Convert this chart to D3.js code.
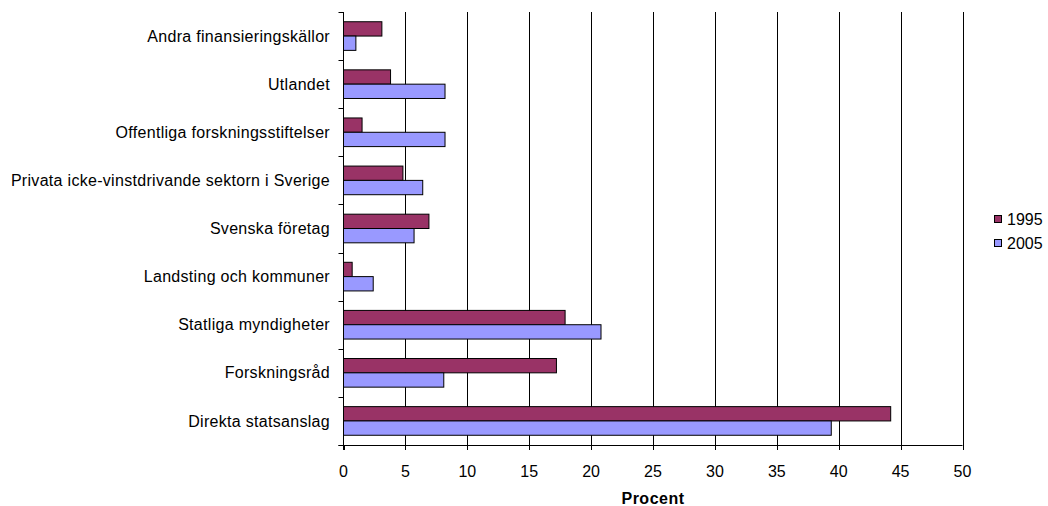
<!DOCTYPE html>
<html><head><meta charset="utf-8">
<script src="https://cdn.jsdelivr.net/npm/d3@7/dist/d3.min.js"></script>
<style>body{margin:0;background:#fff;}svg{display:block;font-family:"Liberation Sans",Arial,sans-serif;}</style>
</head><body>
<svg id="c" width="1048" height="506"></svg>
<script>
const categories = ["Andra finansieringskällor","Utlandet","Offentliga forskningsstiftelser","Privata icke-vinstdrivande sektorn i Sverige","Svenska företag","Landsting och kommuner","Statliga myndigheter","Forskningsråd","Direkta statsanslag"];
const series = ["1995","2005"];
const values1995 = [3.1, 3.8, 1.5, 4.8, 6.9, 0.7, 17.9, 17.2, 44.2];
const values2005 = [1.0, 8.2, 8.2, 6.4, 5.7, 2.4, 20.8, 8.1, 39.4];
const xTicks = [0,5,10,15,20,25,30,35,40,45,50];
const colors = {"1995":"#993366","2005":"#9999FF"};

const FS = 16;
const svg = d3.select("#c");
const L = 343.5, R = 962.5, T = 12, B = 445;
const x = d3.scaleLinear().domain([0,50]).range([L,R]);
const y = d3.scaleBand().domain(categories).range([T,B]);
const inner = d3.scaleBand().domain(series).range([0,y.bandwidth()]).paddingOuter(0.68).paddingInner(0);

// gridlines
svg.append("g").selectAll("line").data(xTicks.slice(1)).join("line")
  .attr("x1",d=>Math.round(x(d))+0.5).attr("x2",d=>Math.round(x(d))+0.5)
  .attr("y1",T).attr("y2",B).attr("stroke","#000").attr("stroke-width",1);

const data = categories.map((c,i)=>({c, v:{"1995":values1995[i],"2005":values2005[i]}}));
const g = svg.append("g");
data.forEach(d=>{
  series.forEach(s=>{
    g.append("rect")
      .attr("x",x(0)).attr("y",y(d.c)+inner(s))
      .attr("width",x(d.v[s])-x(0)).attr("height",inner.bandwidth())
      .attr("fill",colors[s]).attr("stroke","#000").attr("stroke-width",1);
  });
});

// y axis
const ya = svg.append("g");
ya.append("line").attr("x1",L).attr("x2",L).attr("y1",T).attr("y2",B+5).attr("stroke","#000");
const bounds = categories.map(c=>y(c)).concat([B]);
ya.selectAll("line.t").data(bounds).join("line").attr("class","t")
  .attr("x1",L-5).attr("x2",L).attr("y1",d=>Math.round(d)+0.5).attr("y2",d=>Math.round(d)+0.5).attr("stroke","#000");
ya.selectAll("text").data(categories).join("text")
  .attr("x",330).attr("y",d=>y(d)+y.bandwidth()/2).attr("dy","0.35em")
  .attr("text-anchor","end").attr("font-size",FS).attr("letter-spacing","0.3px").attr("fill","#000").text(d=>d);

// x axis
const xa = svg.append("g");
xa.append("line").attr("x1",L-5).attr("x2",R).attr("y1",B+0.5).attr("y2",B+0.5).attr("stroke","#000");
xa.selectAll("line.t").data(xTicks).join("line").attr("class","t")
  .attr("x1",d=>Math.round(x(d))+0.5).attr("x2",d=>Math.round(x(d))+0.5)
  .attr("y1",B).attr("y2",B+5).attr("stroke","#000");
xa.selectAll("text").data(xTicks).join("text")
  .attr("x",d=>x(d)).attr("y",477).attr("text-anchor","middle")
  .attr("font-size",FS).attr("fill","#000").text(d=>d);
svg.append("text").attr("x",x(25)).attr("y",504).attr("text-anchor","middle")
  .attr("font-size",FS).attr("font-weight","bold").attr("letter-spacing","0.5px").text("Procent");

// legend
const lg = svg.append("g");
series.forEach((s,i)=>{
  const cy = 219 + i*24;
  lg.append("rect").attr("x",994.5).attr("y",cy-3.5).attr("width",7).attr("height",7)
    .attr("fill",colors[s]).attr("stroke","#000");
  lg.append("text").attr("x",1007).attr("y",cy).attr("dy","0.35em").attr("font-size",FS).text(s);
});
</script>
</body></html>
